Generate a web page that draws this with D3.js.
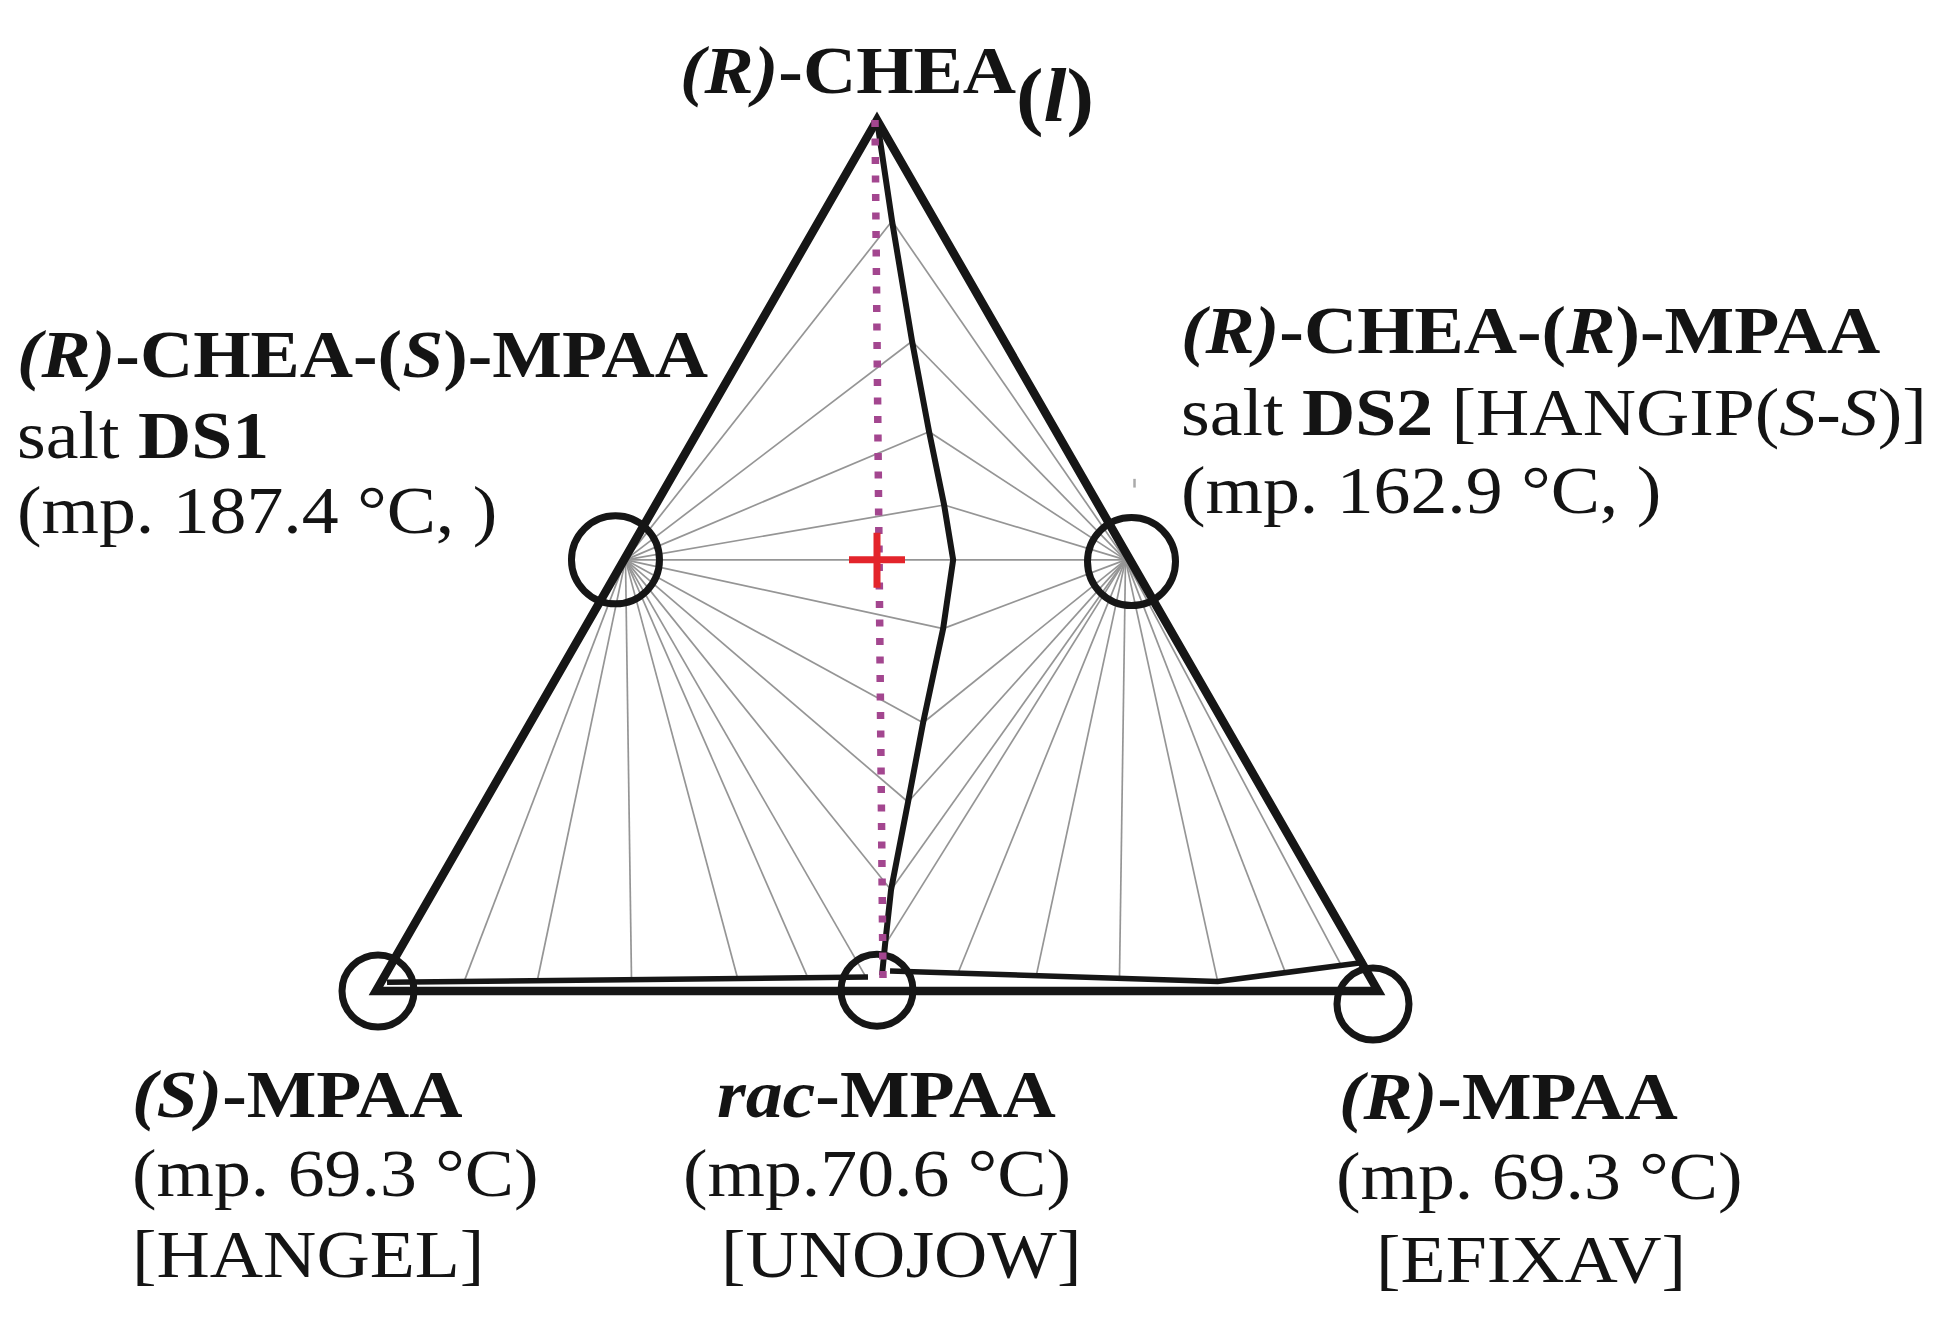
<!DOCTYPE html>
<html>
<head>
<meta charset="utf-8">
<script src="https://d3js.org/d3.v7.min.js"></script>
<style>
body { margin: 0; background: #fff; }
text { font-family: "Liberation Serif", "Times New Roman", serif; fill: #141414; white-space: pre; }
</style>
</head>
<body>
<script>
// composition units: x runs along the base, y runs up to the apex
var corners = [[0, 0], [1, 0], [0.5, 1]];

// liquidus curve from the (R)-CHEA apex down to the racemate
var liquidus = [[0.5, 1], [0.515, 0.884], [0.535, 0.746], [0.552, 0.642], [0.567, 0.558],
    [0.576, 0.495], [0.566, 0.416], [0.546, 0.308], [0.531, 0.217], [0.514, 0.116],
    [0.508, 0.053], [0.505, 0.018]];

// solidus lines just above the base
var solidusLeft = [[0.011, 0.010], [0.491, 0.016]];
var solidusRight = [[0.513, 0.023], [0.840, 0.011], [0.987, 0.033]];

// the two salts
var ds1 = [0.249, 0.495];
var ds2 = [0.748, 0.495];

// far ends of the tie lines from each salt
var ds1Ends = [[0.515, 0.884], [0.535, 0.746], [0.552, 0.642], [0.567, 0.558],
    [0.566, 0.416], [0.546, 0.308], [0.531, 0.217], [0.514, 0.116],
    [0.489, 0.016], [0.431, 0.015], [0.361, 0.014], [0.255, 0.013], [0.161, 0.012], [0.088, 0.011]];
var ds2Ends = [[0.515, 0.884], [0.535, 0.746], [0.552, 0.642], [0.567, 0.558],
    [0.566, 0.416], [0.546, 0.308], [0.531, 0.217], [0.514, 0.116], [0.508, 0.053],
    [0.581, 0.021], [0.659, 0.018], [0.742, 0.015], [0.840, 0.011], [0.908, 0.020], [0.964, 0.028]];

// marked points: (S)-MPAA, rac-MPAA, (R)-MPAA, DS1, DS2
var marked = [[0.002, 0.0], [0.5, 0.001], [0.995, -0.015], [0.239, 0.495], [0.754, 0.493]];

// dotted line from the apex to the racemate, and the cross on it
var dotted = [[0.498, 1.0], [0.506, 0.012]];
var crossPoint = [0.500, 0.495];
var speck = [[0.757, 0.588], [0.757, 0.578]];

// label texts (** bold, _ italic, ~ subscript)
var topLabel = ["**_(R)_-CHEA~(_l_)~**"];
var ds1Label = ["**_(R)_-CHEA-(_S_)-MPAA**", "salt **DS1**", "(mp. 187.4 °C, )"];
var ds2Label = ["**_(R)_-CHEA-(_R_)-MPAA**", "salt **DS2** [HANGIP(_S_-_S_)]", "(mp. 162.9 °C, )"];
var sLabel = ["**_(S)_-MPAA**", "(mp. 69.3 °C)", "[HANGEL]"];
var racLabel = ["**_rac_-MPAA**", "(mp.70.6 °C)", "[UNOJOW]"];
var rLabel = ["**_(R)_-MPAA**", "(mp. 69.3 °C)", "[EFIXAV]"];

var width = 1939, height = 1323;

var x = d3.scaleLinear().domain([0, 1]).range([376, 1378]);
var y = d3.scaleLinear().domain([0, 1]).range([991, 120]);

var line = d3.line()
    .x(function(d) { return x(d[0]); })
    .y(function(d) { return y(d[1]); });

var svg = d3.select("body").append("svg")
    .attr("width", width)
    .attr("height", height);

svg.append("rect").attr("width", width).attr("height", height).attr("fill", "#fff");

// tie lines
var ties = [];
ds1Ends.forEach(function(e) { ties.push([ds1, e]); });
ds2Ends.forEach(function(e) { ties.push([ds2, e]); });
ties.push([ds1, ds2]);

svg.append("g").selectAll("path")
    .data(ties)
    .enter().append("path")
    .attr("d", line)
    .attr("fill", "none")
    .attr("stroke", "#959595")
    .attr("stroke-width", 1.7);

// solidus lines
[solidusLeft, solidusRight].forEach(function(s) {
    svg.append("path")
        .attr("d", line(s))
        .attr("fill", "none")
        .attr("stroke", "#161616")
        .attr("stroke-width", 5.5);
});

// triangle
svg.append("path")
    .attr("d", line(corners) + "Z")
    .attr("fill", "none")
    .attr("stroke", "#161616")
    .attr("stroke-width", 8.5)
    .attr("stroke-linejoin", "miter");

// liquidus
svg.append("path")
    .attr("d", line(liquidus))
    .attr("fill", "none")
    .attr("stroke", "#161616")
    .attr("stroke-width", 6);

// circles
svg.append("g").selectAll("circle")
    .data(marked)
    .enter().append("circle")
    .attr("cx", function(d) { return x(d[0]); })
    .attr("cy", function(d) { return y(d[1]); })
    .attr("r", function(d, i) { return i < 3 ? 36 : 44; })
    .attr("fill", "none")
    .attr("stroke", "#161616")
    .attr("stroke-width", 7);

// dotted line
svg.append("path")
    .attr("d", line(dotted))
    .attr("fill", "none")
    .attr("stroke", "#a3468f")
    .attr("stroke-width", 7.5)
    .attr("stroke-dasharray", "7,11.5");

// red cross
var cx = x(crossPoint[0]), cy = y(crossPoint[1]);
svg.append("path")
    .attr("d", "M" + (cx - 28) + "," + cy + "H" + (cx + 28) + "M" + cx + "," + (cy - 27) + "V" + (cy + 28))
    .attr("stroke", "#e3242b")
    .attr("stroke-width", 7);

svg.append("path")
    .attr("d", line(speck))
    .attr("stroke", "#aaa")
    .attr("stroke-width", 2.5);

// labels
function drawLabel(lines, x0, ys, size) {
    lines.forEach(function(str, i) {
        var t = svg.append("text")
            .attr("transform", "translate(" + x0[i] + "," + ys[i] + ") scale(1.085,1)")
            .attr("font-size", size);
        var bold = false, italic = false, sub = false, shift = 0;
        str.split(/(\*\*|_|~)/).forEach(function(tok) {
            if (tok === "**") { bold = !bold; return; }
            if (tok === "_") { italic = !italic; return; }
            if (tok === "~") { sub = !sub; shift += sub ? 28 : -28; return; }
            if (!tok) return;
            var ts = t.append("tspan")
                .attr("font-weight", bold ? "bold" : "normal")
                .attr("font-style", italic ? "italic" : "normal")
                .attr("font-size", sub ? size * 1.12 : size)
                .text(tok);
            if (shift) { ts.attr("dy", shift); shift = 0; }
        });
    });
}

drawLabel(topLabel, [680], [93], 68);
drawLabel(ds1Label, [17, 17, 17], [377, 458, 533], 68);
drawLabel(ds2Label, [1181, 1181, 1181], [353, 435, 513], 68);
drawLabel(sLabel, [132, 132, 132], [1117, 1196, 1277], 68);
drawLabel(racLabel, [717, 683, 721], [1117, 1196, 1277], 68);
drawLabel(rLabel, [1339, 1336, 1376], [1119, 1199, 1282], 68);
</script>
</body>
</html>
